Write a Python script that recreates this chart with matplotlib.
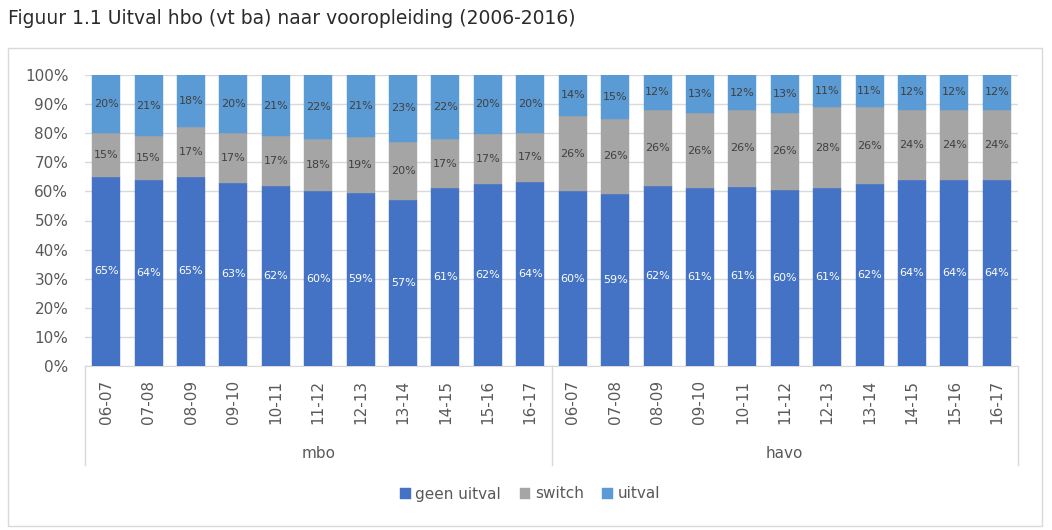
import matplotlib
matplotlib.use("Agg")
import matplotlib.pyplot as plt
import numpy as np
from matplotlib.patches import Rectangle

years = ["06-07", "07-08", "08-09", "09-10", "10-11", "11-12", "12-13", "13-14", "14-15", "15-16", "16-17"]
groups = ["mbo", "havo"]

geen_mbo = [65, 64, 65, 63, 62, 60, 59, 57, 61, 62, 64]
switch_mbo = [15, 15, 17, 17, 17, 18, 19, 20, 17, 17, 17]
uitval_mbo = [20, 21, 18, 20, 21, 22, 21, 23, 22, 20, 20]

geen_havo = [60, 59, 62, 61, 61, 60, 61, 62, 64, 64, 64]
switch_havo = [26, 26, 26, 26, 26, 26, 28, 26, 24, 24, 24]
uitval_havo = [14, 15, 12, 13, 12, 13, 11, 11, 12, 12, 12]

series_names = ["geen uitval", "switch", "uitval"]
colors = ["#4472C4", "#A5A5A5", "#5B9BD5"]
label_colors = ["white", "#404040", "#404040"]

geen = np.array(geen_mbo + geen_havo, dtype=float)
switch = np.array(switch_mbo + switch_havo, dtype=float)
uitval = np.array(uitval_mbo + uitval_havo, dtype=float)
raw = [geen, switch, uitval]
total = geen + switch + uitval
norm = [s / total * 100 for s in raw]

W, H = 1052, 530
fig = plt.figure(figsize=(W / 100, H / 100), dpi=100)
fig.patch.set_facecolor("white")

# outer chart border
fig.add_artist(Rectangle((8 / W, 1 - 526 / H), (1042 - 8) / W, (526 - 48) / H,
                         transform=fig.transFigure, fill=False, edgecolor="#D9D9D9", lw=1))

fig.text(8 / W, 1 - 18 / H, "Figuur 1.1 Uitval hbo (vt ba) naar vooropleiding (2006-2016)",
         fontsize=13.5, color="#2b2b2b", va="center", ha="left")

left, right = 85 / W, 1018 / W
bottom, top = 1 - 366 / H, 1 - 75 / H
ax = fig.add_axes([left, bottom, right - left, top - bottom])

n = len(geen)
x = np.arange(n)
bottoms = np.zeros(n)
for i in range(3):
    ax.bar(x, norm[i], bottom=bottoms, width=0.66, color=colors[i],
           edgecolor=colors[i], linewidth=0.3, label=series_names[i], zorder=3)
    for xi, h, bt, v in zip(x, norm[i], bottoms, raw[i]):
        ax.text(xi, bt + h / 2, f"{int(v)}%", ha="center", va="center",
                fontsize=8, color=label_colors[i], zorder=4)
    bottoms = bottoms + norm[i]

ax.set_xlim(-0.5, n - 0.5)
ax.set_ylim(0, 100)
ax.set_yticks(np.arange(0, 101, 10))
ax.set_yticklabels([f"{v}%" for v in range(0, 101, 10)])
ax.yaxis.grid(True, color="#D9D9D9", lw=1, zorder=0)
ax.set_axisbelow(True)
for s in ["top", "right", "left"]:
    ax.spines[s].set_visible(False)
ax.spines["bottom"].set_color("#D9D9D9")
ax.tick_params(axis="y", length=0, labelsize=11, labelcolor="#595959", pad=12)
ax.set_xticks(x)
ax.set_xticklabels(years * 2, rotation=90)
ax.tick_params(axis="x", length=0, labelsize=11, labelcolor="#595959", pad=10)

# group separators and labels
trans = matplotlib.transforms.blended_transform_factory(ax.transData, ax.transAxes)
ylow = -(465 - 366) / (366 - 75)
for xs in [-0.5, 10.5, n - 0.5]:
    ax.plot([xs, xs], [0, ylow], transform=trans, color="#D9D9D9", lw=1, clip_on=False)
glab_y = -(453 - 366) / (366 - 75)
ax.text(5, glab_y, groups[0], transform=trans, ha="center", va="center", fontsize=11, color="#595959")
ax.text(16, glab_y, groups[1], transform=trans, ha="center", va="center", fontsize=11, color="#595959")

leg = fig.legend(loc="center", bbox_to_anchor=(530 / W, 1 - 494 / H), ncol=3, frameon=False,
                 fontsize=11, handlelength=0.7, handleheight=0.7, handletextpad=0.3,
                 columnspacing=1.2)
for t in leg.get_texts():
    t.set_color("#595959")

fig.savefig("out.png", dpi=100, facecolor="white")
